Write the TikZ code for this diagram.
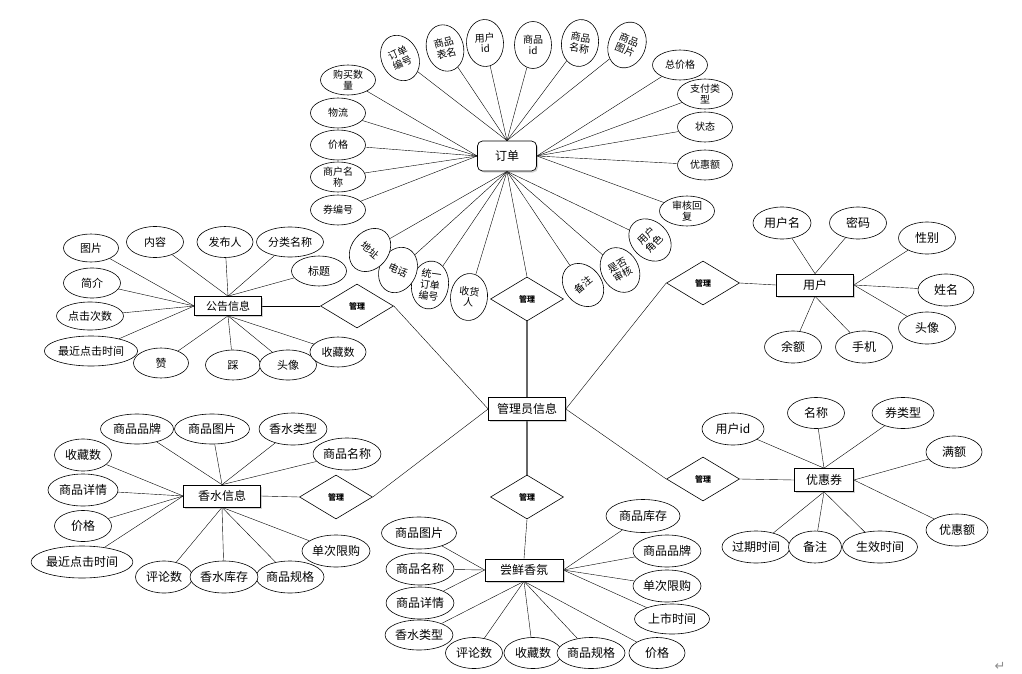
\documentclass[tikz,border=0pt]{standalone}
\usepackage{fontspec}
\setmainfont{Noto Sans CJK SC}
\newfontfamily\symfont{DejaVu Sans}
\usetikzlibrary{shapes.geometric,shadows,backgrounds}
\begin{document}
\begin{tikzpicture}[x=1pt,y=-1pt,
  attr/.style={ellipse,draw,fill=white,inner sep=0pt,align=center,line width=0.6pt,
    minimum width=56,minimum height=31,font=\fontsize{11}{12}\selectfont},
  oattr/.style={attr,minimum width=55,minimum height=30,font=\fontsize{10}{11}\selectfont},
  tattr/.style={attr,minimum width=37,minimum height=47,font=\fontsize{10}{11}\selectfont},
  battr/.style={attr,minimum height=32,font=\fontsize{12}{13}\selectfont},
  ent/.style={rectangle,draw,fill=white,inner sep=0pt,line width=0.7pt,
    drop shadow={shadow xshift=1.5pt,shadow yshift=-1.5pt,opacity=0.35},
    font=\fontsize{12}{13}\selectfont},
  rel/.style={diamond,draw,fill=white,inner sep=0pt,line width=0.6pt,minimum width=73,minimum height=44,
    font=\bfseries\fontsize{8}{9}\selectfont},
  conn/.style={line width=0.6pt},
  hub/.style={line width=1.2pt,draw=black!60}
]
\useasboundingbox (0,0) rectangle (1022,674);

% ---------------- entities ----------------
\node[ent,rounded corners=5pt,minimum width=59,minimum height=30] (ord) at (507,156) {订单};
\node[ent,minimum width=77,minimum height=23] (adm) at (527,409) {管理员信息};
\node[ent,minimum width=67,minimum height=19,font=\fontsize{11}{12}\selectfont] (ann) at (228,306) {公告信息};
\node[ent,minimum width=77,minimum height=22] (per) at (222,496) {香水信息};
\node[ent,minimum width=78,minimum height=22] (try) at (524,570) {尝鲜香氛};
\node[ent,minimum width=77,minimum height=22] (usr) at (815,285) {用户};
\node[ent,minimum width=59,minimum height=23] (cpn) at (824,480) {优惠券};

% ---------------- relations ----------------
\node[rel] (r1) at (527,299) {管理};
\node[rel] (r2) at (357,306) {管理};
\node[rel] (r3) at (336,497) {管理};
\node[rel] (r4) at (527,497) {管理};
\node[rel] (r5) at (703,283) {管理};
\node[rel] (r6) at (703,479) {管理};

% ---------------- 订单 attributes ----------------
\node[oattr] (o1) at (348,80) {购买数\\量};
\node[oattr] (o2) at (338,113) {物流};
\node[oattr] (o3) at (338,145) {价格};
\node[oattr] (o4) at (338,177) {商户名\\称};
\node[oattr] (o5) at (338,210) {券编号};
\node[tattr,rotate=25] (o6) at (400,58) {订单\\编号};
\node[tattr,rotate=15] (o7) at (445,48) {商品\\表名};
\node[tattr,rotate=3] (o8) at (485,43) {用户\\id};
\node[tattr] (o9) at (533,45) {商品\\id};
\node[tattr,rotate=-8] (o10) at (580,43) {商品\\名称};
\node[tattr,rotate=-22] (o11) at (627,45) {商品\\图片};
\node[oattr] (o12) at (680,65) {总价格};
\node[oattr] (o13) at (705,94) {支付类\\型};
\node[oattr] (o14) at (705,127) {状态};
\node[oattr] (o15) at (705,165) {优惠额};
\node[oattr] (o16) at (687,211) {审核回\\复};
\node[tattr,rotate=45] (o17) at (650,240) {用户\\角色};
\node[tattr,rotate=30] (o18) at (620,270) {是否\\审核};
\node[tattr,rotate=40] (o19) at (583,285) {备注};
\node[tattr,rotate=-5] (o20) at (469,297) {收货\\人};
\node[tattr,rotate=-8,minimum height=48] (o21) at (430,285) {统一\\订单\\编号};
\node[tattr,rotate=-25] (o22) at (398,270) {电话};
\node[tattr,rotate=-40] (o23) at (370,250) {地址};

% ---------------- 公告信息 attributes ----------------
\node[attr,minimum width=55,minimum height=28] (a1) at (91,248) {图片};
\node[attr,minimum width=57] (a2) at (155,242) {内容};
\node[attr] (a3) at (225,242) {发布人};
\node[attr,minimum width=67,minimum height=30] (a4) at (290,242) {分类名称};
\node[attr,minimum width=55,minimum height=30] (a5) at (319,271) {标题};
\node[attr,minimum width=57,minimum height=30] (a6) at (92,283) {简介};
\node[attr,minimum width=67,minimum height=28] (a7) at (90,316) {点击次数};
\node[attr,minimum width=89,minimum height=30] (a8) at (91,351) {最近点击时间};
\node[attr,minimum width=55,minimum height=30] (a9) at (161,363) {赞};
\node[attr,minimum width=55,minimum height=30] (a10) at (233,365) {踩};
\node[attr,minimum width=57,minimum height=30] (a11) at (288,365) {头像};
\node[attr,minimum width=56,minimum height=30] (a12) at (338,352) {收藏数};

% ---------------- 香水信息 attributes ----------------
\node[battr,minimum width=73,minimum height=30] (p1) at (137,429) {商品品牌};
\node[battr,minimum width=75,minimum height=30] (p2) at (212,429) {商品图片};
\node[battr,minimum width=67] (p3) at (293,429) {香水类型};
\node[battr,minimum width=67] (p4) at (347,454) {商品名称};
\node[battr,minimum width=57] (p5) at (83,455) {收藏数};
\node[battr,minimum width=70] (p6) at (83,490) {商品详情};
\node[battr,minimum width=57,minimum height=31] (p7) at (83,526) {价格};
\node[battr,minimum width=98] (p8) at (82,562) {最近点击时间};
\node[battr,minimum width=57] (p9) at (164,577) {评论数};
\node[battr,minimum width=68] (p11) at (290,577) {商品规格};
\node[battr,minimum width=67] (p10) at (224,577) {香水库存};
\node[battr,minimum width=68] (p12) at (336,551) {单次限购};

% ---------------- 尝鲜香氛 attributes ----------------
\node[battr,minimum width=75] (t1) at (419,533) {商品图片};
\node[battr,minimum width=68] (t2) at (420,569) {商品名称};
\node[battr,minimum width=67] (t3) at (420,603) {商品详情};
\node[battr,minimum width=67,minimum height=30] (t4) at (419,635) {香水类型};
\node[battr,minimum width=57,minimum height=31] (t5) at (474,653) {评论数};
\node[battr,minimum width=58,minimum height=31] (t6) at (533,653) {收藏数};
\node[battr,minimum width=68,minimum height=31] (t7) at (591,653) {商品规格};
\node[battr,minimum width=56,minimum height=31] (t8) at (657,653) {价格};
\node[battr,minimum width=74,minimum height=33] (t9) at (643,516) {商品库存};
\node[battr,minimum width=68] (t10) at (667,551) {商品品牌};
\node[battr,minimum width=68] (t11) at (667,586) {单次限购};
\node[battr,minimum width=75,minimum height=30] (t12) at (672,619) {上市时间};

% ---------------- 用户 attributes ----------------
\node[battr,minimum width=58] (u1) at (782,223) {用户名};
\node[battr,minimum width=57] (u2) at (858,223) {密码};
\node[battr,minimum width=57] (u3) at (927,238) {性别};
\node[battr,minimum width=56] (u4) at (946,290) {姓名};
\node[battr,minimum width=57] (u5) at (927,328) {头像};
\node[battr,minimum width=57] (u6) at (793,347) {余额};
\node[battr,minimum width=57] (u7) at (864,347) {手机};

% ---------------- 优惠券 attributes ----------------
\node[battr,minimum width=62] (c1) at (733,429) {用户id};
\node[battr,minimum width=57,minimum height=31] (c2) at (816,413) {名称};
\node[battr,minimum width=62,minimum height=31] (c3) at (903,413) {券类型};
\node[battr,minimum width=56] (c4) at (954,452) {满额};
\node[battr,minimum width=62] (c5) at (957,530) {优惠额};
\node[battr,minimum width=68] (c6) at (756,547) {过期时间};
\node[battr,minimum width=53] (c7) at (815,547) {备注};
\node[battr,minimum width=75] (c8) at (880,547) {生效时间};

% paragraph mark
\node[text=black!45,font=\symfont\fontsize{13}{13}\selectfont,inner sep=0pt] (pm) at (1000,666) {↵};

% ---------------- connectors ----------------
\begin{scope}[on background layer,conn]
  \foreach \n in {o1,o2,o3,o4,o5} \draw (\n) -- (ord.west);
  \foreach \n in {o6,o7,o8,o9,o10,o11} \draw (\n) -- (ord.north);
  \foreach \n in {o12,o13,o14,o15,o16} \draw (\n) -- (ord.east);
  \foreach \n in {o17,o18,o19,o20,o21,o22,o23} \draw (\n) -- (ord.south);
  \draw (r1.north) -- (ord.south);

  \foreach \n in {a1,a6,a7,a8} \draw (\n) -- (ann.west);
  \foreach \n in {a2,a3,a4,a5} \draw (\n) -- (ann.north);
  \foreach \n in {a9,a10,a11,a12} \draw (\n) -- (ann.south);
  \draw (r2.west) -- (ann.east);

  \foreach \n in {p5,p6,p7,p8} \draw (\n) -- (per.west);
  \foreach \n in {p1,p2,p3,p4} \draw (\n) -- (per.north);
  \foreach \n in {p9,p10,p11,p12} \draw (\n) -- (per.south);
  \draw (r3.west) -- (per.east);

  \foreach \n in {t1,t2,t3} \draw (\n) -- (try.west);
  \foreach \n in {t4,t5,t6,t7,t8} \draw (\n) -- (try.south);
  \foreach \n in {t9,t10,t11,t12} \draw (\n) -- (try.east);
  \draw (r4.south) -- (try.north);

  \foreach \n in {u1,u2} \draw (\n) -- (usr.north);
  \foreach \n in {u3,u4,u5} \draw (\n) -- (usr.east);
  \foreach \n in {u6,u7} \draw (\n) -- (usr.south);
  \draw (r5.east) -- (usr.west);

  \foreach \n in {c1,c2,c3} \draw (\n) -- (cpn.north);
  \foreach \n in {c4,c5} \draw (\n) -- (cpn.east);
  \foreach \n in {c6,c7,c8} \draw (\n) -- (cpn.south);
  \draw (r6.east) -- (cpn.west);

  \draw (r2.east) -- (adm.west);
  \draw (r3.east) -- (adm.west);
  \draw (r5.west) -- (adm.east);
  \draw (r6.west) -- (adm.east);
  \draw[hub] (r1.south) -- (adm.north);
  \draw[hub] (r4.north) -- (adm.south);
\end{scope}
\end{tikzpicture}
\end{document}
